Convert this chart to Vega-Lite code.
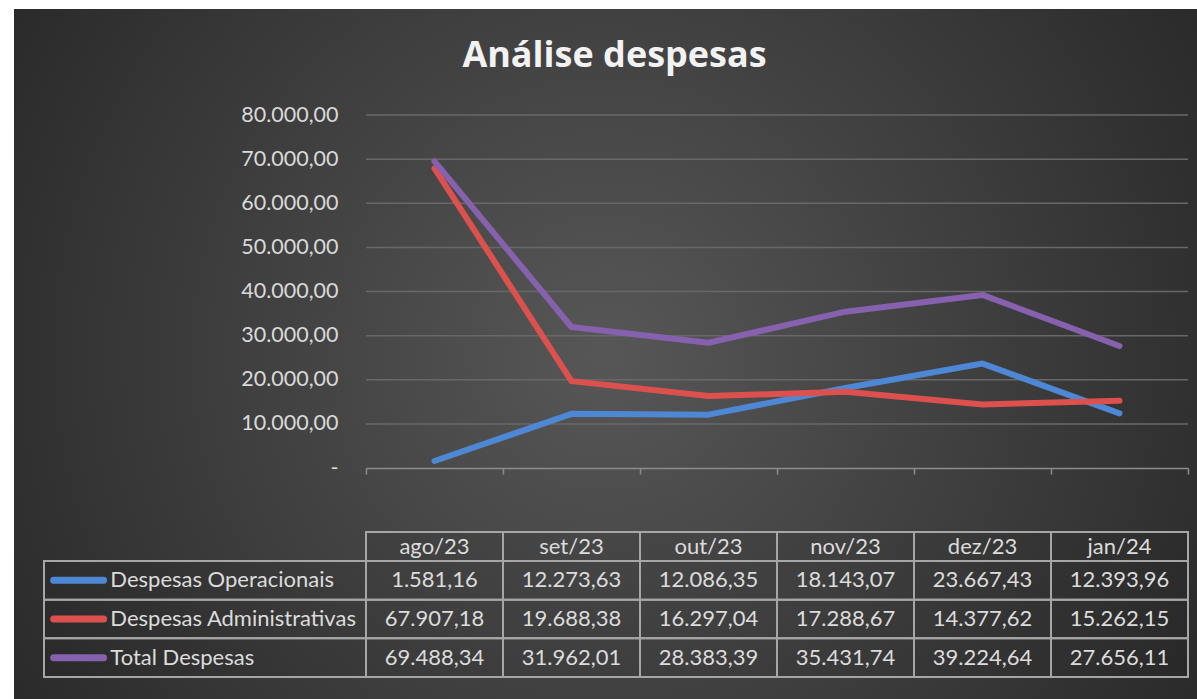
{
  "$schema": "https://vega.github.io/schema/vega-lite/v6.json",
  "width": 1183,
  "height": 690,
  "autosize": {"type": "none"},
  "padding": {"left": 14, "top": 9, "right": 0, "bottom": 0},
  "background": "#ffffff",
  "config": {
    "locale": {"number": {"decimal": ",", "thousands": ".", "grouping": [3], "currency": ["R$ ", ""]}},
    "view": {
      "stroke": null,
      "fill": {"gradient": "radial", "x1": 0.5, "y1": 0.5, "r1": 0, "x2": 0.5, "y2": 0.5, "r2": 0.62,
        "stops": [{"offset": 0, "color": "#575757"}, {"offset": 1, "color": "#272727"}]}
    },
    "font": "Lato"
  },
  "title": {
    "text": "Análise despesas",
    "font": "Open Sans",
    "fontSize": 36,
    "fontWeight": "bold",
    "color": "#f2f2f2",
    "anchor": "middle",
    "frame": "group",
    "baseline": "alphabetic",
    "offset": -94,
    "dx": 9
  },
  "datasets": {
    "d": [
      {"month": "ago/23", "series": "Despesas Operacionais", "value": 1581.16},
      {"month": "ago/23", "series": "Despesas Administrativas", "value": 67907.18},
      {"month": "ago/23", "series": "Total Despesas", "value": 69488.34},
      {"month": "set/23", "series": "Despesas Operacionais", "value": 12273.63},
      {"month": "set/23", "series": "Despesas Administrativas", "value": 19688.38},
      {"month": "set/23", "series": "Total Despesas", "value": 31962.01},
      {"month": "out/23", "series": "Despesas Operacionais", "value": 12086.35},
      {"month": "out/23", "series": "Despesas Administrativas", "value": 16297.04},
      {"month": "out/23", "series": "Total Despesas", "value": 28383.39},
      {"month": "nov/23", "series": "Despesas Operacionais", "value": 18143.07},
      {"month": "nov/23", "series": "Despesas Administrativas", "value": 17288.67},
      {"month": "nov/23", "series": "Total Despesas", "value": 35431.74},
      {"month": "dez/23", "series": "Despesas Operacionais", "value": 23667.43},
      {"month": "dez/23", "series": "Despesas Administrativas", "value": 14377.62},
      {"month": "dez/23", "series": "Total Despesas", "value": 39224.64},
      {"month": "jan/24", "series": "Despesas Operacionais", "value": 12393.96},
      {"month": "jan/24", "series": "Despesas Administrativas", "value": 15262.15},
      {"month": "jan/24", "series": "Total Despesas", "value": 27656.11}
    ],
    "grid": [
      {"g": 10000}, {"g": 20000}, {"g": 30000}, {"g": 40000},
      {"g": 50000}, {"g": 60000}, {"g": 70000}, {"g": 80000}
    ]
  },
  "data": {"name": "d"},
  "resolve": {"scale": {"x": "independent", "y": "independent"}},
  "layer": [
    {
      "layer": [
        {
          "data": {"name": "grid"},
          "mark": {"type": "rule", "color": "#686868", "strokeWidth": 1.5},
          "encoding": {
            "y": {"field": "g", "type": "quantitative"},
            "x": {"datum": "ago/23", "type": "nominal", "bandPosition": 0},
            "x2": {"datum": "jan/24", "bandPosition": 1}
          }
        },
        {
          "mark": {"type": "line", "strokeWidth": 6, "strokeCap": "round", "strokeJoin": "round"},
          "encoding": {
            "x": {
              "field": "month", "type": "nominal", "sort": null,
              "scale": {"type": "band", "domain": ["ago/23", "set/23", "out/23", "nov/23", "dez/23", "jan/24"], "range": [352, 1174], "paddingInner": 0, "paddingOuter": 0},
              "axis": {"orient": "bottom", "offset": -231, "labels": false, "title": null, "grid": false,
                "domainColor": "#8c8c8c", "domainWidth": 1.5, "tickColor": "#8c8c8c", "tickWidth": 1.5, "tickSize": 6, "tickBand": "extent"}
            },
            "y": {
              "field": "value", "type": "quantitative",
              "scale": {"domain": [0, 80000], "range": [459, 106], "nice": false, "zero": true},
              "axis": {"orient": "left", "offset": -352, "title": null, "grid": false, "domain": false, "ticks": false, "tickSize": 0,
                "labelPadding": 28, "values": [0, 10000, 20000, 30000, 40000, 50000, 60000, 70000, 80000],
                "format": ",.2f", "labelExpr": "datum.value == 0 ? '-' : datum.label",
                "labelFont": "Lato", "labelFontSize": 21.5, "labelColor": "#d9d9d9"}
            },
            "color": {
              "field": "series", "type": "nominal",
              "scale": {"domain": ["Despesas Operacionais", "Despesas Administrativas", "Total Despesas"], "range": ["#4E88D4", "#DC514E", "#8661AE"]},
              "legend": null
            }
          }
        }
      ]
    },
    {
      "transform": [{"filter": "datum.series == 'Total Despesas'"}],
      "encoding": {
        "x": {
          "field": "month", "type": "nominal", "sort": null,
          "scale": {"type": "band", "domain": ["ago/23", "set/23", "out/23", "nov/23", "dez/23", "jan/24"], "range": [352, 1174], "paddingInner": 0, "paddingOuter": 0},
          "axis": null
        },
        "y": {"datum": "header", "type": "nominal", "scale": {"type": "band", "domain": ["header"], "range": [523, 552], "paddingInner": 0, "paddingOuter": 0}, "axis": null}
      },
      "layer": [
        {"mark": {"type": "rect", "fill": "#000000", "fillOpacity": 0.06, "stroke": "#a6a6a6", "strokeWidth": 2}},
        {"mark": {"type": "text", "font": "Lato", "fontSize": 22, "color": "#dcdcdc", "baseline": "middle", "align": "center"},
          "encoding": {"text": {"field": "month"}}}
      ]
    },
    {
      "encoding": {
        "x": {
          "field": "month", "type": "nominal", "sort": null,
          "scale": {"type": "band", "domain": ["ago/23", "set/23", "out/23", "nov/23", "dez/23", "jan/24"], "range": [352, 1174], "paddingInner": 0, "paddingOuter": 0},
          "axis": null
        },
        "y": {"field": "series", "type": "nominal", "sort": null,
          "scale": {"type": "band", "domain": ["Despesas Operacionais", "Despesas Administrativas", "Total Despesas"], "range": [552, 668], "paddingInner": 0, "paddingOuter": 0},
          "axis": null}
      },
      "layer": [
        {"mark": {"type": "rect", "fill": "#000000", "fillOpacity": 0.06, "stroke": "#a6a6a6", "strokeWidth": 2}},
        {"mark": {"type": "text", "font": "Lato", "fontSize": 22, "color": "#dcdcdc", "baseline": "middle", "align": "center"},
          "encoding": {"text": {"field": "value", "type": "quantitative", "format": ",.2f"}}}
      ]
    },
    {
      "transform": [{"filter": "datum.month == 'ago/23'"}],
      "encoding": {
        "y": {"field": "series", "type": "nominal", "sort": null,
          "scale": {"type": "band", "domain": ["Despesas Operacionais", "Despesas Administrativas", "Total Despesas"], "range": [552, 668], "paddingInner": 0, "paddingOuter": 0},
          "axis": null}
      },
      "layer": [
        {"mark": {"type": "rect", "fill": "#000000", "fillOpacity": 0.06, "stroke": "#a6a6a6", "strokeWidth": 2},
          "encoding": {"x": {"datum": "legend", "type": "nominal", "scale": {"type": "band", "domain": ["legend"], "range": [30, 352], "paddingInner": 0, "paddingOuter": 0}, "axis": null}}},
        {"mark": {"type": "rule", "strokeWidth": 7, "strokeCap": "round"},
          "encoding": {
            "x": {"datum": "legend", "type": "nominal", "bandPosition": 0.03},
            "x2": {"datum": "legend", "bandPosition": 0.185},
            "color": {"field": "series", "type": "nominal", "legend": null}
          }},
        {"mark": {"type": "text", "font": "Lato", "fontSize": 22, "color": "#dcdcdc", "baseline": "middle", "align": "left"},
          "encoding": {
            "x": {"datum": "legend", "type": "nominal", "bandPosition": 0.206},
            "text": {"field": "series"}
          }}
      ]
    }
  ]
}
